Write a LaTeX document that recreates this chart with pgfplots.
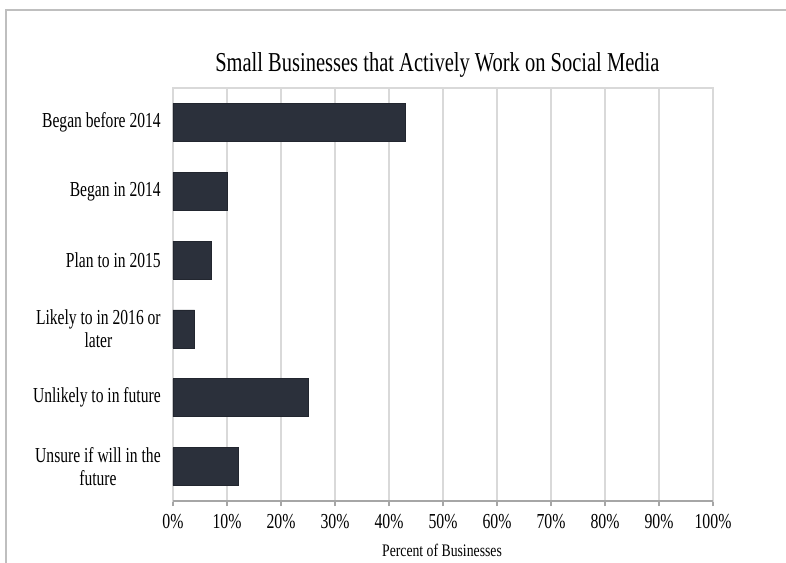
\documentclass[border=0pt]{standalone}
\usepackage{fontspec}
\setmainfont{Liberation Serif}
\usepackage{pgfplots}
\pgfplotsset{compat=1.18}
\definecolor{barc}{HTML}{2B303B}
\definecolor{gridc}{HTML}{D9D9D9}
\definecolor{axc}{HTML}{A6A6A6}
\definecolor{framec}{HTML}{BFBFBF}
\begin{document}
\begin{tikzpicture}
\useasboundingbox (0,0) rectangle (589.5pt,-422.25pt);
\fill[white] (0,0) rectangle (589.5pt,-422.25pt);
\draw[framec, line width=0.8pt] (4.5pt,-440pt) -- (4.5pt,-7.5pt) -- (610pt,-7.5pt);
\begin{axis}[
  at={(129.75pt,-375.75pt)}, anchor=south west,
  scale only axis, width=405pt, height=309.75pt,
  xmin=0, xmax=100, ymin=-0.5, ymax=5.5, y dir=reverse,
  xbar, bar width=28.5pt,
  xtick={0,10,...,100},
  xticklabels={0\%,10\%,20\%,30\%,40\%,50\%,60\%,70\%,80\%,90\%,100\%},
  ytick={0,1,2,3,4,5},
  yticklabels={Began before 2014, Began in 2014, Plan to in 2015, {Likely to in 2016 or\\later}, Unlikely to in future, {Unsure if will in the\\future}},
  yticklabel style={align=center, font=\fontsize{16}{17.5}\selectfont, xscale=0.73, xshift=-4pt},
  xticklabel style={font=\fontsize{16}{17.5}\selectfont, xscale=0.74, yshift=-2.5pt},
  xmajorgrids, grid style={gridc, line width=0.8pt},
  axis line style={gridc, line width=0.8pt},
  xtick pos=bottom, tick align=outside, major tick length=3.75pt,
  xtick style={axc, line width=0.8pt},
  ytick style={draw=none},
  /pgf/number format/assume math mode=true,
]
\addplot[fill=barc, draw=barc!80!black] coordinates {(43,0) (10,1) (7,2) (4,3) (25,4) (12,5)};
\draw[axc, line width=0.8pt] (axis cs:0,5.5) -- (axis cs:100,5.5);
\end{axis}
\node[anchor=base, font=\fontsize{20.5}{24}\selectfont, xscale=0.75] at (328pt,-54pt) {Small Businesses that Actively Work on Social Media};
\node[anchor=base, font=\fontsize{13.2}{15}\selectfont, xscale=0.78] at (331.5pt,-417pt) {Percent of Businesses};
\end{tikzpicture}
\end{document}
